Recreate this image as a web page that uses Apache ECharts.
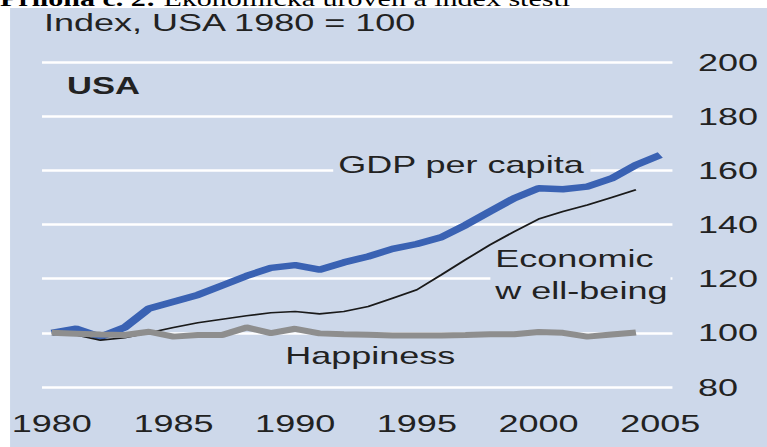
<!DOCTYPE html>
<html>
<head>
<meta charset="utf-8">
<script src="https://cdn.jsdelivr.net/npm/echarts@6/dist/echarts.min.js"></script>
<style>
    html, body { margin: 0; padding: 0; background: #fff; overflow: hidden; }
    /* the source picture is stretched sideways, so the chart is drawn narrow and widened */
    #main { position: absolute; left: 0; top: 0; width: 511px; height: 447px;
            transform: scaleX(1.501); transform-origin: 0 0; }
</style>
</head>
<body>
<div id="main"></div>
<script>
    var years = [1980, 1981, 1982, 1983, 1984, 1985, 1986, 1987, 1988, 1989,
                 1990, 1991, 1992, 1993, 1994, 1995, 1996, 1997, 1998, 1999,
                 2000, 2001, 2002, 2003, 2004, 2005];
    var gdp = [100, 101.5, 98.5, 102, 109, 111.5, 114, 117.5, 121, 124,
               125, 123.3, 126, 128.2, 131, 132.8, 135.3, 139.8, 144.8, 149.7,
               153.4, 153, 154, 157, 162, 165.7];
    // economic well-being and happiness stop at 2004
    var wellBeing = [100, 99.2, 97.3, 98.2, 100, 102, 103.7, 105, 106.3, 107.4,
                     107.9, 107, 107.9, 109.7, 112.8, 115.9, 121.4, 127, 132.5, 137.4,
                     142, 144.8, 147.2, 150, 152.8];
    var happiness = [100, 99.7, 99.4, 99.2, 100.4, 98.6, 99.2, 99.2, 102, 99.9,
                     101.5, 99.8, 99.5, 99.3, 99, 99, 99, 99.2, 99.5, 99.5,
                     100.3, 100, 98.6, 99.4, 100.1];
    var xTicks = [1980, 1985, 1990, 1995, 2000, 2005];

    function pairs(vals) {
        return vals.map(function (v, i) { return [years[i], v]; });
    }

    var panel = '#cdd8ea';
    var font = '"Liberation Sans", Arial, sans-serif';

    function label(text, x, y, extra) {
        var style = {
            text: text, fill: '#222', fontSize: 24, fontFamily: font,
            align: 'left', textAlign: 'left',
            verticalAlign: 'middle', textVerticalAlign: 'middle'
        };
        for (var k in extra) style[k] = extra[k];
        return { type: 'text', x: x, y: y, z: 1, silent: true, style: style };
    }

    var chart = echarts.init(document.getElementById('main'), null, { renderer: 'svg' });
    chart.setOption({
        backgroundColor: '#fff',
        animation: false,
        grid: { left: 28, right: 63, top: 62, bottom: 60 },
        xAxis: {
            type: 'value',
            min: 1979.6,
            max: 2005.5,
            axisLine: { show: false },
            axisTick: { show: false },
            splitLine: { show: false },
            axisLabel: {
                customValues: xTicks,
                formatter: function (v) { return String(v); },
                color: '#222',
                fontSize: 24,
                fontFamily: font,
                lineHeight: 24,
                margin: 24
            }
        },
        yAxis: {
            type: 'value',
            position: 'right',
            min: 80,
            max: 200,
            interval: 20,
            axisLine: { show: false },
            axisTick: { show: false },
            splitLine: { lineStyle: { color: '#fff', width: 2.5 } },
            axisLabel: {
                color: '#222',
                fontSize: 24,
                fontFamily: font,
                margin: 17
            }
        },
        graphic: [
            { type: 'rect', z: -10, silent: true,
              shape: { x: 6.7, y: 8, width: 520, height: 450 },
              style: { fill: panel } },
            { type: 'text', x: 0, y: -1, silent: true,
              style: {
                  text: '{b|Příloha č. 2:} Ekonomická úroveň a index štěstí',
                  fill: '#000', fontSize: 20, fontFamily: '"Liberation Serif", "Times New Roman", serif',
                  lineHeight: 16,
                  verticalAlign: 'middle', textVerticalAlign: 'middle',
                  rich: {
                      b: { fontWeight: 'bold', fontSize: 20, fill: '#000', lineHeight: 16,
                           fontFamily: '"Liberation Serif", "Times New Roman", serif' }
                  }
              } },
            label('Index, USA 1980 = 100', 29.3, 22, { lineHeight: 22 }),
            label('USA', 44.7, 85.6, { fontWeight: 'bold', fontSize: 23 }),
            label('GDP per capita', 222, 164, {
                backgroundColor: panel, textBackgroundColor: panel,
                padding: [2, 4, 2, 3.3], textPadding: [2, 4, 2, 3.3]
            }),
            label('Economic\nw ell-being', 326.7, 242, {
                verticalAlign: 'top', textVerticalAlign: 'top',
                lineHeight: 32, textLineHeight: 32,
                backgroundColor: panel, textBackgroundColor: panel,
                padding: [0, 2, 0, 3.3], textPadding: [0, 2, 0, 3.3]
            }),
            label('Happiness', 190, 355, {})
        ],
        series: [
            {
                name: 'GDP per capita',
                type: 'line',
                data: pairs(gdp),
                showSymbol: false,
                lineStyle: { color: '#3a62b3', width: 6.5 }
            },
            {
                name: 'Economic well-being',
                type: 'line',
                data: pairs(wellBeing),
                showSymbol: false,
                lineStyle: { color: '#1a1a1a', width: 1.6 }
            },
            {
                name: 'Happiness',
                type: 'line',
                data: pairs(happiness),
                showSymbol: false,
                lineStyle: { color: '#8e8e8e', width: 6 }
            }
        ]
    });
</script>
</body>
</html>
